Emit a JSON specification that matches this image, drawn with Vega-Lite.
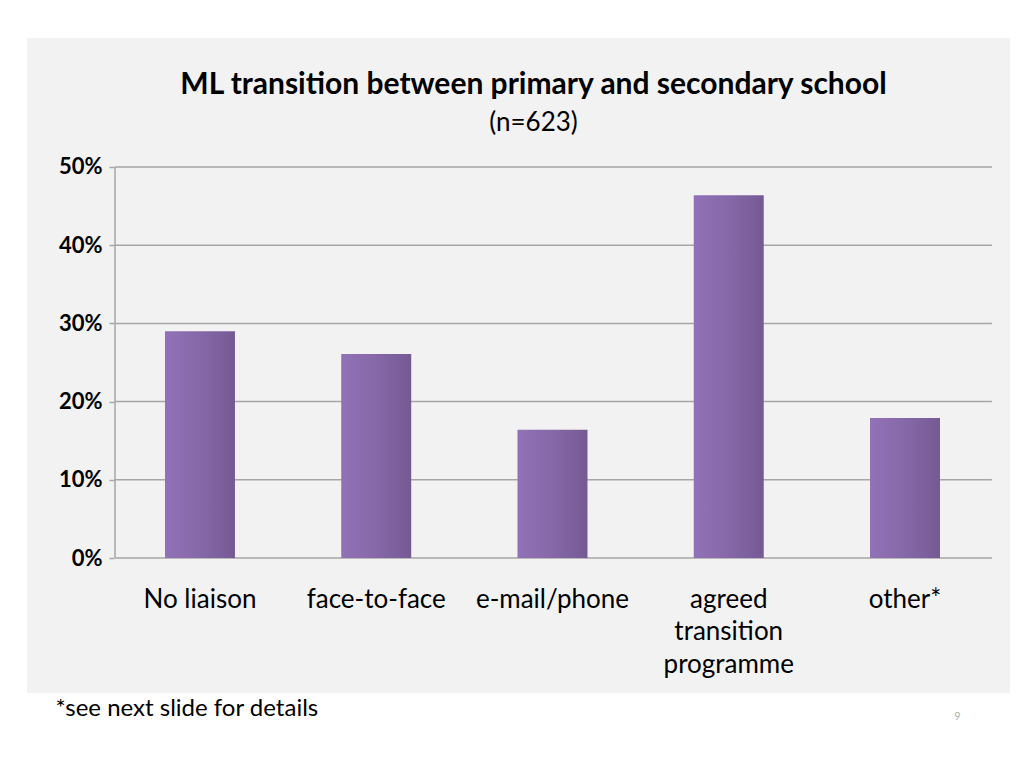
{
  "$schema": "https://vega.github.io/schema/vega-lite/v6.json",
  "autosize": "none",
  "width": 983,
  "height": 655,
  "padding": {"left": 27, "top": 38, "right": 26, "bottom": 87},
  "background": "#ffffff",
  "view": {"fill": "#f2f2f2", "stroke": null},
  "title": {
    "text": "ML transition between primary and secondary school",
    "subtitle": "(n=623)",
    "font": "Lato",
    "fontSize": 30,
    "fontWeight": "bold",
    "color": "#000000",
    "subtitleFont": "Lato",
    "subtitleFontSize": 26,
    "subtitleColor": "#000000",
    "anchor": "middle",
    "frame": "group",
    "offset": -98,
    "subtitlePadding": 10,
    "dx": 15
  },
  "datasets": {
    "bars": [
      {"cat": "No liaison", "pct": 0.29},
      {"cat": "face-to-face", "pct": 0.261},
      {"cat": "e-mail/phone", "pct": 0.164},
      {"cat": "agreed transition programme", "pct": 0.464},
      {"cat": "other*", "pct": 0.179}
    ],
    "grid": [{"v": 0}, {"v": 0.1}, {"v": 0.2}, {"v": 0.3}, {"v": 0.4}, {"v": 0.5}],
    "axisline": [{"a": 0, "b": 0.5}]
  },
  "layer": [
    {
      "data": {"name": "grid"},
      "mark": {"type": "rule", "color": "#a6a6a6", "strokeWidth": 1.5},
      "encoding": {
        "y": {
          "field": "v", "type": "quantitative",
          "scale": {"domain": [-0.17263, 0.66496], "nice": false, "zero": false},
          "axis": {
            "orient": "left", "offset": -87, "domain": false, "grid": false,
            "values": [0, 0.1, 0.2, 0.3, 0.4, 0.5], "format": ".0%",
            "tickSize": 5, "tickColor": "#a6a6a6", "tickWidth": 1.5,
            "labelFont": "Lato", "labelFontSize": 22, "labelFontWeight": "bold", "labelColor": "#000000",
            "labelPadding": 7,
            "title": "9", "titleAngle": 0, "titleX": 843, "titleY": 678, "titleFont": "Lato",
            "titleFontSize": 11, "titleFontWeight": "normal", "titleColor": "#b0b0b0",
            "titleAlign": "center", "titleBaseline": "middle"
          }
        },
        "x": {
          "datum": "No liaison", "type": "nominal", "bandPosition": -0.714,
          "scale": {"type": "band", "domain": ["No liaison", "face-to-face", "e-mail/phone", "agreed transition programme", "other*"], "paddingInner": 0.603, "paddingOuter": 0.59, "align": 0.6634, "round": false},
          "axis": {
            "orient": "bottom", "offset": -135, "domain": false, "ticks": false, "grid": false,
            "labelAngle": 0, "labelFont": "Lato", "labelFontSize": 26, "labelColor": "#000000",
            "labelPadding": 28, "labelLineHeight": 32.5, "labelLimit": 0, "labelOverlap": false,
            "labelExpr": "datum.label == 'agreed transition programme' ? ['agreed', 'transition', 'programme'] : datum.label",
            "title": "*see next slide for details", "titleFont": "Lato", "titleFontSize": 24,
            "titleFontWeight": "normal", "titleColor": "#000000", "titleAnchor": "start",
            "titleX": 28, "titleY": 150, "titleAlign": "left", "titleBaseline": "middle"
          }
        },
        "x2": {"datum": "other*", "bandPosition": 1.743}
      }
    },
    {
      "data": {"name": "axisline"},
      "mark": {"type": "rule", "color": "#a6a6a6", "strokeWidth": 1.5},
      "encoding": {
        "y": {"field": "a", "type": "quantitative"},
        "y2": {"field": "b"},
        "x": {"datum": "No liaison", "type": "nominal", "bandPosition": -0.714}
      }
    },
    {
      "data": {"name": "bars"},
      "mark": {
        "type": "bar",
        "color": {
          "gradient": "linear", "x1": 0, "x2": 1, "y1": 0, "y2": 0,
          "stops": [
            {"offset": 0, "color": "#9172b6"},
            {"offset": 0.5, "color": "#8668a9"},
            {"offset": 1, "color": "#755993"}
          ]
        }
      },
      "encoding": {
        "x": {"field": "cat", "type": "nominal", "sort": null},
        "y": {"field": "pct", "type": "quantitative"},
        "y2": {"datum": 0}
      }
    }
  ]
}
